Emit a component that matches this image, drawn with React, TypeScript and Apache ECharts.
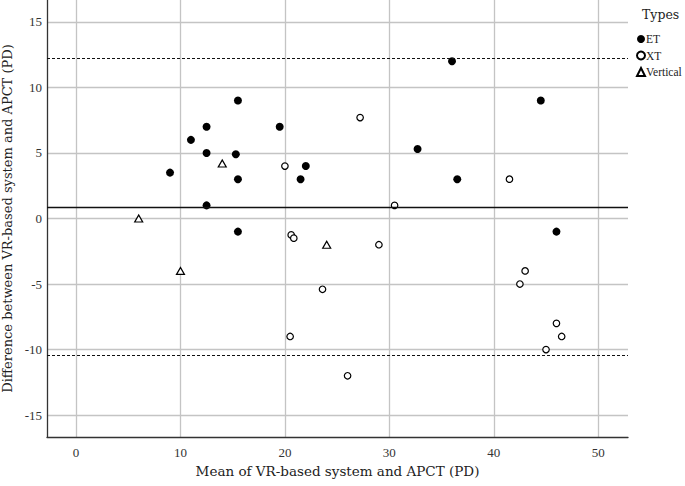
import React, { useEffect, useRef } from "react";
import * as echarts from "echarts";

const etPoints: number[][] = [
  [15.5, 9], [12.5, 7], [11, 6], [19.5, 7], [12.5, 5], [15.3, 4.9], [22, 4],
  [9, 3.5], [15.5, 3], [21.5, 3], [12.5, 1], [15.5, -1], [36, 12], [44.5, 9],
  [32.7, 5.3], [36.5, 3], [46, -1],
];
const xtPoints: number[][] = [
  [20, 4], [27.2, 7.7], [30.5, 1], [41.5, 3], [20.6, -1.25], [20.85, -1.5],
  [23.6, -5.4], [20.5, -9], [26, -12], [29, -2], [43, -4], [42.5, -5],
  [46, -8], [46.5, -9], [45, -10],
];
const verticalPoints: number[][] = [[14, 4.2], [6, 0], [10, -4], [24, -2]];

const meanDiff = 0.87;
const upperLoA = 12.21;
const lowerLoA = -10.47;

const xRange = [-2.78, 52.85];
const yRange = [-16.67, 16.67];

const FONT = "Liberation Serif";
const WIDE = "DejaVu Serif";

export default function App() {
  const ref = useRef<HTMLDivElement>(null);
  useEffect(() => {
    document.body.style.margin = "0";
    const chart = echarts.init(ref.current!, null, { renderer: "svg" });
    const labelFmt = (v: number) => (Math.abs(v - Math.round(v)) < 1e-6 ? String(Math.round(v)) : "");
    chart.setOption({
      animation: false,
      backgroundColor: "#ffffff",
      textStyle: { fontFamily: FONT },
      title: {
        text: "Types",
        left: 637,
        top: 3,
        textStyle: { fontFamily: WIDE, fontSize: 12.5, fontWeight: "normal", color: "#222" },
      },
      legend: {
        orient: "vertical",
        left: 631,
        top: 28,
        itemWidth: 8,
        itemHeight: 8,
        itemGap: 4.5,
        textStyle: { fontFamily: FONT, fontSize: 11.5, color: "#222", padding: [0, 0, 0, -4] },
        data: ["ET", "XT", "Vertical"],
      },
      grid: { left: 47, right: 57, top: 0, bottom: 49, containLabel: false, outerBoundsMode: "none" },
      xAxis: {
        type: "value",
        min: xRange[0],
        max: xRange[1],
        name: "Mean of VR-based system and APCT (PD)",
        nameLocation: "middle",
        nameGap: 27,
        nameTextStyle: { fontFamily: WIDE, fontSize: 13.5, color: "#222" },
        axisLine: { onZero: false, lineStyle: { color: "#333", width: 1.3 } },
        axisTick: { show: false },
        axisLabel: {
          fontFamily: FONT, fontSize: 13, color: "#333", margin: 9,
          showMinLabel: false, showMaxLabel: false, formatter: labelFmt,
        },
        splitLine: { show: true, showMinLine: false, showMaxLine: false, lineStyle: { color: "#c4c4c4", width: 1.3 } },
      },
      yAxis: {
        type: "value",
        min: yRange[0],
        max: yRange[1],
        name: "Difference between VR-based system and APCT (PD)",
        nameLocation: "middle",
        nameGap: 28,
        nameTextStyle: { fontFamily: WIDE, fontSize: 13, color: "#222" },
        axisLine: { show: true, onZero: false, lineStyle: { color: "#333", width: 1.3 } },
        axisTick: { show: false },
        axisLabel: {
          fontFamily: FONT, fontSize: 13, color: "#333", margin: 5,
          showMinLabel: false, showMaxLabel: false, formatter: labelFmt,
        },
        splitLine: { show: true, showMinLine: false, showMaxLine: false, lineStyle: { color: "#c4c4c4", width: 1.3 } },
      },
      series: [
        {
          name: "ET",
          type: "scatter",
          data: etPoints,
          symbol: "circle",
          symbolSize: 8,
          itemStyle: { color: "#000", opacity: 1 },
          markLine: {
            silent: true,
            symbol: "none",
            label: { show: false },
            data: [
              { yAxis: meanDiff, lineStyle: { color: "#111", type: "solid", width: 1.3 } },
              { yAxis: upperLoA, lineStyle: { color: "#111", type: [3, 2], width: 1.1 } },
              { yAxis: lowerLoA, lineStyle: { color: "#111", type: [3, 2], width: 1.1 } },
            ],
          },
          z: 3,
        },
        {
          name: "XT",
          type: "scatter",
          data: xtPoints,
          symbol: "circle",
          symbolSize: 6.5,
          itemStyle: { color: "#fff", borderColor: "#000", borderWidth: 1.2, opacity: 1 },
          z: 3,
        },
        {
          name: "Vertical",
          type: "scatter",
          data: verticalPoints,
          symbol: "triangle",
          symbolSize: [8, 7],
          itemStyle: { color: "#fff", borderColor: "#000", borderWidth: 1.2, opacity: 1 },
          z: 3,
        },
      ],
    });
    return () => chart.dispose();
  }, []);
  return <div ref={ref} style={{ width: 685, height: 486 }} />;
}
